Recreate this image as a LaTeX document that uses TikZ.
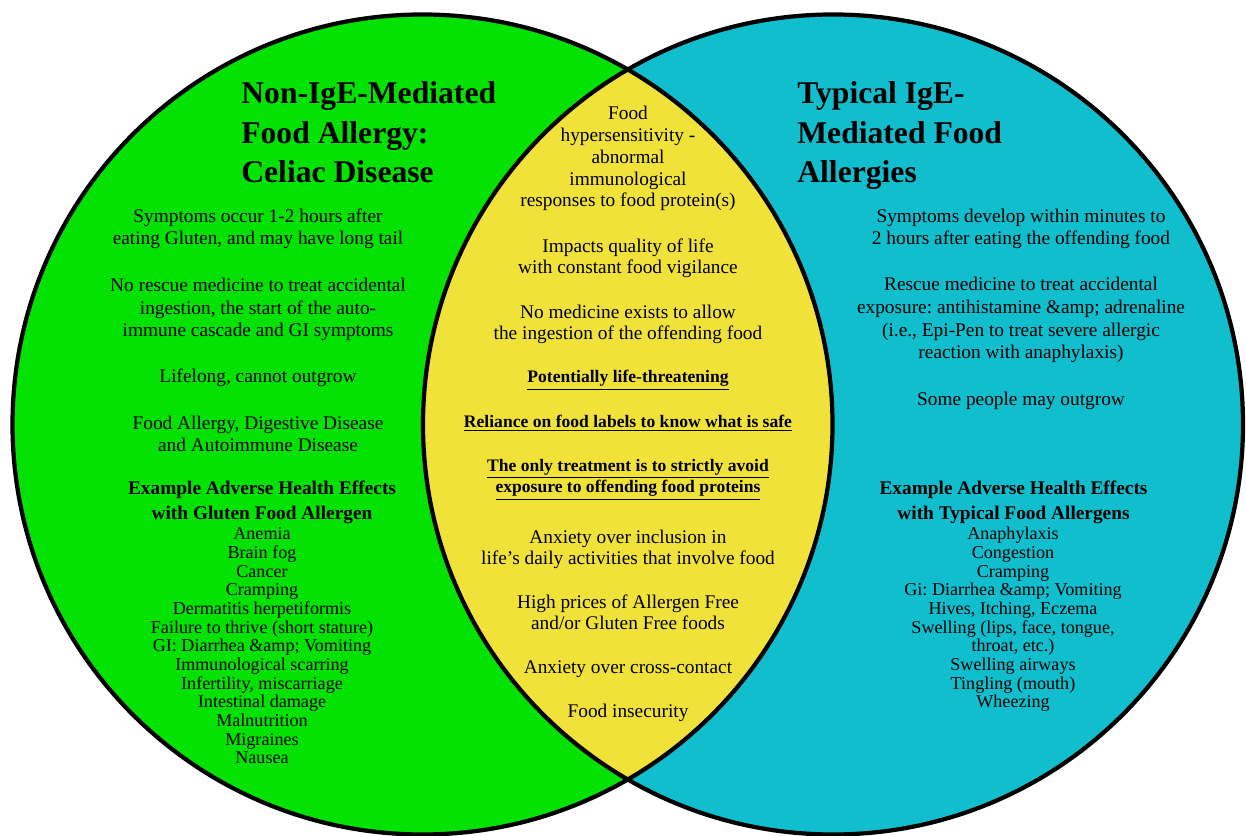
\documentclass[tikz,border=0pt]{standalone}
\usepackage{fontspec}
\setmainfont{Liberation Serif}
\usepackage{tikz}
\usetikzlibrary{positioning}
\usepackage{xcolor}
\definecolor{celiacgreen}{HTML}{03E203}
\definecolor{igeteal}{HTML}{11BECD}
\definecolor{overlapyellow}{HTML}{F1E23A}
\frenchspacing

\tikzset{
    settitle/.style={anchor=base west, align=left, inner sep=0pt, font=\fontsize{18}{22.7}\selectfont\bfseries},
    setbody/.style={anchor=base, align=center, inner sep=0pt, font=\fontsize{11}{13}\selectfont},
    sethead/.style={anchor=base, align=center, inner sep=0pt, font=\fontsize{11}{14.7}\selectfont\bfseries},
    setlist/.style={anchor=base, align=center, inner sep=0pt, font=\fontsize{10.3}{10.63}\selectfont},
    sharedbody/.style={anchor=base, align=center, inner sep=0pt, font=\fontsize{11}{12.5}\selectfont},
    sharedkey/.style={anchor=base, align=center, inner sep=0pt, font=\fontsize{10}{12.2}\selectfont\bfseries},
    setring/.style={draw=black, line width=2.4pt}
}

\begin{document}
\begin{tikzpicture}
    \useasboundingbox (0,0) rectangle (24.92,16.72);
    \coordinate (celiaccentre) at (8.45,8.23);
    \coordinate (igecentre) at (16.66,8.23);

    \fill[celiacgreen] (celiaccentre) circle (8.2);
    \fill[igeteal] (igecentre) circle (8.2);
    \begin{scope}
        \clip (celiaccentre) circle (8.2);
        \fill[overlapyellow] (igecentre) circle (8.2);
    \end{scope}
    \draw[setring] (celiaccentre) circle (8.2);
    \draw[setring] (igecentre) circle (8.2);

    \node[settitle] (celiactitle) at (4.82,13.06) {Non-IgE-Mediated\\Food Allergy:\\Celiac Disease};
    \node[settitle] (igetitle) at (15.94,13.06) {Typical IgE-\\Mediated Food\\Allergies};

    \node[setbody] (celiaconset) at (5.16,11.82) {Symptoms occur 1-2 hours after\\eating Gluten, and may have long tail};
    \node[setbody] (celiacrescue) at (5.16,9.98) {No rescue medicine to treat accidental\\ingestion, the start of the auto-\\immune cascade and GI symptoms};
    \node[setbody] (celiaclifelong) at (5.16,9.06) {Lifelong, cannot outgrow};
    \node[setbody] (celiactype) at (5.16,7.68) {Food Allergy, Digestive Disease\\and Autoimmune Disease};
    \node[sethead] (celiachead) at (5.24,6.32) {Example Adverse Health Effects\\with Gluten Food Allergen};
    \node[setlist] (celiaclist) at (5.24,1.44) {Anemia\\Brain fog\\Cancer\\Cramping\\Dermatitis herpetiformis\\Failure to thrive (short stature)\\GI: Diarrhea \&amp; Vomiting\\Immunological scarring\\Infertility, miscarriage\\Intestinal damage\\Malnutrition\\Migraines\\Nausea};

    \node[sharedbody] (hypersens) at (12.56,12.58) {Food\\hypersensitivity -\\abnormal\\immunological\\responses to food protein(s)};
    \node[sharedbody] (quality) at (12.56,11.24) {Impacts quality of life\\with constant food vigilance};
    \node[sharedbody] (nomedicine) at (12.56,9.92) {No medicine exists to allow\\the ingestion of the offending food};
    \node[sharedkey] (lifethreat) at (12.56,9.06) {\underline{Potentially life-threatening}};
    \node[sharedkey] (labels) at (12.56,8.16) {\underline{Reliance on food labels to know what is safe}};
    \node[sharedkey] (avoidance) at (12.56,6.86) {\underline{The only treatment is to strictly avoid}\\\underline{exposure to offending food proteins}};
    \node[sharedbody] (inclusion) at (12.56,5.42) {Anxiety over inclusion in\\life's daily activities that involve food};
    \node[sharedbody] (prices) at (12.56,4.12) {High prices of Allergen Free\\and/or Gluten Free foods};
    \node[sharedbody] (crosscontact) at (12.56,3.24) {Anxiety over cross-contact};
    \node[sharedbody] (insecurity) at (12.56,2.36) {Food insecurity};

    \node[setbody] (igeonset) at (20.42,11.82) {Symptoms develop within minutes to\\2 hours after eating the offending food};
    \node[setbody] (igerescue) at (20.42,9.54) {Rescue medicine to treat accidental\\exposure: antihistamine \&amp; adrenaline\\(i.e., Epi-Pen to treat severe allergic\\reaction with anaphylaxis)};
    \node[setbody] (igeoutgrow) at (20.42,8.6) {Some people may outgrow};
    \node[sethead] (igehead) at (20.27,6.32) {Example Adverse Health Effects\\with Typical Food Allergens};
    \node[setlist] (igelist) at (20.26,2.56) {Anaphylaxis\\Congestion\\Cramping\\Gi: Diarrhea \&amp; Vomiting\\Hives, Itching, Eczema\\Swelling (lips, face, tongue,\\throat, etc.)\\Swelling airways\\Tingling (mouth)\\Wheezing};
\end{tikzpicture}
\end{document}
